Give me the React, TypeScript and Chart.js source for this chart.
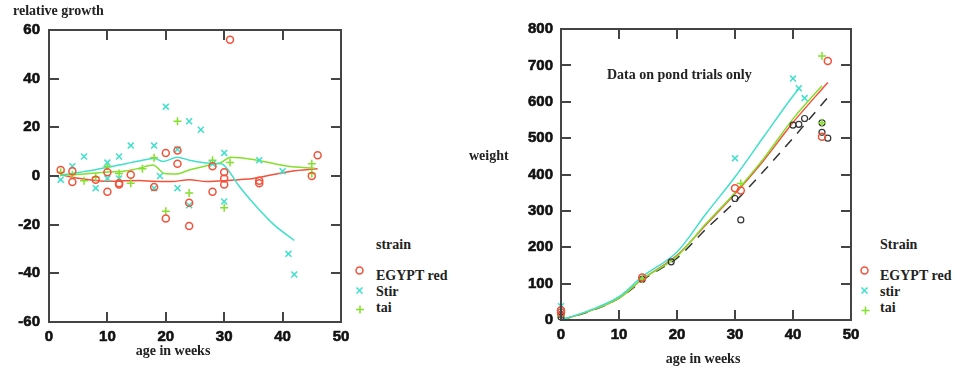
import React, { useEffect, useRef } from "react";
import { Chart, registerables } from "chart.js";

Chart.register(...registerables);

// ---------- Left panel: relative growth vs age in weeks ----------
const growthXTicks = [0, 10, 20, 30, 40, 50];
const growthYTicks = [-60, -40, -20, 0, 20, 40, 60];

const growthEgypt: [number, number][] = [
  [2, 2.5], [4, 2], [4, -2.5], [8, -1.5], [10, 1.5], [10, -6.5], [12, -3], [12, -3.5],
  [14, 0.5], [18, -4.5], [20, 9.5], [20, -17.5], [22, 10.5], [22, 5], [24, -11],
  [24, -20.5], [28, 4], [28, -6.5], [30, 1.5], [30, -1], [30, -3.5], [31, 56],
  [36, -2], [36, -3], [45, 0], [46, 8.5],
];
const growthStir: [number, number][] = [
  [2, -1.5], [4, 4], [6, 8], [8, -5], [10, 5.5], [10, -1], [12, 8], [12, -1],
  [14, 12.5], [18, 12.5], [18, -5], [19, 0], [20, 28.5], [22, 11], [22, -5],
  [24, 22.5], [24, -12], [26, 19], [28, 5], [30, 9.5], [30, -10.5], [36, 6.5],
  [40, 2], [41, -32], [42, -40.5],
];
const growthTai: [number, number][] = [
  [2, 1.5], [4, 0.5], [6, -2], [8, -0.5], [10, 4], [12, 1], [14, -3], [16, 3],
  [18, 7.5], [20, -14.5], [22, 22.5], [24, -7], [28, 6.5], [30, -13], [31, 5.5],
  [45, 5], [45, 1],
];
const growthEgyptSmooth: [number, number][] = [
  [2, 0.5], [4, -0.5], [6, -1.2], [8, -1.8], [10, -2.2], [13, -2], [15.5, -1.8],
  [18, -2.2], [21, -2.3], [24, -1.5], [27, -2.3], [30, -2], [32.5, -1.5], [35, -1],
  [38, 0.4], [41.5, 2], [46, 3],
];
const growthStirSmooth: [number, number][] = [
  [2, 0.5], [4, 1], [6, 1.8], [8, 2.6], [10, 3.6], [12, 4.5], [14, 5.5], [16, 6.5],
  [18, 7.2], [19.5, 6], [22, 7.7], [24, 6.5], [27, 5.3], [29.5, 5], [30.5, 3],
  [32.5, -4], [35.5, -12.5], [38.5, -20], [42, -26.5],
];
const growthTaiSmooth: [number, number][] = [
  [2, 0.4], [6, 0.8], [9.5, 1.5], [13.5, 2.2], [15.5, 3.2], [17.8, 4.5], [19.8, 1],
  [21.8, 0.8], [24, 2.5], [27.4, 4.5], [29.4, 5.5], [31.1, 7.7], [35.4, 6.6],
  [41, 4], [45.5, 3.2],
];

// ---------- Right panel: weight vs age in weeks ----------
const weightXTicks = [0, 10, 20, 30, 40, 50];
const weightYTicks = [0, 100, 200, 300, 400, 500, 600, 700, 800];

const weightEgypt: [number, number][] = [
  [0, 27], [0, 20], [14, 117], [30, 362], [31, 356], [45, 504], [46, 712],
];
const weightStir: [number, number][] = [
  [0, 38], [30, 445], [40, 664], [41, 637], [42, 610],
];
const weightTai: [number, number][] = [
  [0, 12], [14, 113], [31, 375], [45, 726], [45, 542],
];
const weightOther: [number, number][] = [
  [0, 15], [0, 8], [14, 112], [19, 160], [30, 334], [31, 275], [40, 536],
  [41, 538], [42, 554], [45, 542], [45, 516], [46, 500],
];
const curveEgypt: [number, number][] = [
  [0, 0], [5, 25], [10, 60], [14, 112], [20, 178], [25, 262], [30, 347],
  [35, 440], [40, 543], [46, 653],
];
const curveStir: [number, number][] = [
  [0, 0], [5, 27], [10, 64], [14, 119], [20, 187], [25, 292], [30, 393],
  [35, 505], [40, 616], [41.2, 639],
];
const curveTai: [number, number][] = [
  [0, 0], [5, 25], [10, 60], [14, 112], [20, 175], [25, 265], [30, 350],
  [35, 445], [40, 553], [45, 644],
];
const curveOther: [number, number][] = [
  [0, 0], [5, 24], [10, 60], [15, 120], [20, 170], [25, 250], [30, 325],
  [35, 410], [40, 500], [46, 612],
];

// ---------- styling / layout ----------
const RED = "#f4513b";
const CYAN = "#3fe0cc";
const GREEN = "#84e02c";
const BLACK = "#333333";
const FRAME = "#444444";
const TICK_FONT = { family: "'Liberation Sans', Arial, sans-serif", size: 15, weight: "bold" as const };
const SERIF = "'Liberation Serif', 'DejaVu Serif', serif";
const TICK_LEN = 10;

// plot boxes (page pixels) that the chart paddings below produce
const LEFT_BOX = { left: 49, top: 30, right: 341, bottom: 322 };
const RIGHT_BOX = { left: 561, top: 29, right: 851, bottom: 320 };

const pts = (a: [number, number][]) => a.map(([x, y]) => ({ x, y }));

function drawFrame(chart: any) {
  const ctx = chart.ctx;
  const a = chart.chartArea;
  const xs = chart.scales.x;
  const ys = chart.scales.y;
  ctx.save();
  ctx.strokeStyle = FRAME;
  ctx.lineWidth = 2;
  ctx.setLineDash([]);
  ctx.beginPath();
  ctx.rect(a.left, a.top, a.right - a.left, a.bottom - a.top);
  xs.ticks.forEach((t: any) => {
    if (t.value <= xs.min || t.value >= xs.max) return;
    const p = Math.round(xs.getPixelForValue(t.value));
    ctx.moveTo(p, a.bottom);
    ctx.lineTo(p, a.bottom - TICK_LEN);
    ctx.moveTo(p, a.top);
    ctx.lineTo(p, a.top + TICK_LEN);
  });
  ys.ticks.forEach((t: any) => {
    if (t.value <= ys.min || t.value >= ys.max) return;
    const p = Math.round(ys.getPixelForValue(t.value));
    ctx.moveTo(a.left, p);
    ctx.lineTo(a.left + TICK_LEN, p);
    ctx.moveTo(a.right, p);
    ctx.lineTo(a.right - TICK_LEN, p);
  });
  ctx.stroke();
  ctx.restore();
}

const framePlugin = { id: "plotFrame", afterDraw: (chart: any) => drawFrame(chart) };

const markerSet = (data: [number, number][], color: string, style: string, radius: number, label: string) => ({
  label,
  data: pts(data),
  showLine: false,
  pointStyle: style,
  pointRadius: radius,
  borderColor: color,
  backgroundColor: "rgba(0,0,0,0)",
  pointBorderColor: color,
  pointBackgroundColor: "rgba(0,0,0,0)",
  borderWidth: 1.5,
  pointBorderWidth: 1.5,
  clip: false as any,
});

const lineSet = (data: [number, number][], color: string, label: string, dash: number[] = []) => ({
  label,
  data: pts(data),
  showLine: true,
  pointRadius: 0,
  borderColor: color,
  backgroundColor: color,
  borderWidth: 1.5,
  borderDash: dash,
  tension: 0.3,
  cubicInterpolationMode: "monotone" as const,
  clip: false as any,
});

function axis(ticks: number[], position: string, size: number, labelPad: number) {
  const horizontal = position === "top" || position === "bottom";
  return {
    type: "linear" as const,
    position,
    min: ticks[0],
    max: ticks[ticks.length - 1],
    afterBuildTicks: (s: any) => { s.ticks = ticks.map((v) => ({ value: v })); },
    ticks: {
      font: TICK_FONT,
      color: "#111",
      textStrokeColor: "#111",
      textStrokeWidth: 0.6,
      padding: labelPad,
      maxRotation: 0,
      autoSkip: false,
    },
    grid: { display: false, drawTicks: false },
    border: { display: false },
    afterFit: (s: any) => {
      if (horizontal) s.height = size;
      else s.width = size;
    },
  };
}

function useChart(ref: React.RefObject<HTMLCanvasElement>, build: () => any) {
  useEffect(() => {
    if (!ref.current) return;
    const chart = new Chart(ref.current, build());
    return () => chart.destroy();
  }, []);
}

// plot frame with inward tick marks, as thin HTML boxes
function FrameBoxes({ box, xTicks, yTicks }: { box: typeof LEFT_BOX; xTicks: number[]; yTicks: number[] }) {
  const x0 = xTicks[0], x1 = xTicks[xTicks.length - 1];
  const y0 = yTicks[0], y1 = yTicks[yTicks.length - 1];
  const px = (v: number) => Math.round(box.left + ((v - x0) / (x1 - x0)) * (box.right - box.left));
  const py = (v: number) => Math.round(box.bottom - ((v - y0) / (y1 - y0)) * (box.bottom - box.top));
  const seg = (l: number, t: number, w: number, h: number, k: string) => (
    <div key={k} style={{ position: "absolute", left: l, top: t, width: w, height: h, background: FRAME }} />
  );
  const parts: React.ReactNode[] = [
    seg(box.left - 1, box.top - 1, box.right - box.left + 2, 2, "t"),
    seg(box.left - 1, box.bottom - 1, box.right - box.left + 2, 2, "b"),
    seg(box.left - 1, box.top - 1, 2, box.bottom - box.top + 2, "l"),
    seg(box.right - 1, box.top - 1, 2, box.bottom - box.top + 2, "r"),
  ];
  xTicks.slice(1, -1).forEach((v) => {
    const p = px(v);
    parts.push(seg(p - 1, box.bottom - TICK_LEN, 2, TICK_LEN, `xb${v}`));
    parts.push(seg(p - 1, box.top, 2, TICK_LEN, `xt${v}`));
  });
  yTicks.slice(1, -1).forEach((v) => {
    const p = py(v);
    parts.push(seg(box.left, p - 1, TICK_LEN, 2, `yl${v}`));
    parts.push(seg(box.right - TICK_LEN, p - 1, TICK_LEN, 2, `yr${v}`));
  });
  return <>{parts}</>;
}

const textStyle = (left: number, top: number, center = false): React.CSSProperties => ({
  position: "absolute",
  left,
  top,
  fontFamily: SERIF,
  fontWeight: "bold",
  fontSize: 14,
  lineHeight: "16px",
  color: "#222",
  whiteSpace: "nowrap",
  transform: center ? "translateX(-50%)" : undefined,
});

function Legend({ x, y, title, names }: { x: number; y: number; title: string; names: string[] }) {
  return (
    <>
      <div style={textStyle(x + 17, y)}>{title}</div>
      <div style={textStyle(x + 17, y + 31)}>{names[0]}</div>
      <div style={textStyle(x + 17, y + 47)}>{names[1]}</div>
      <div style={textStyle(x + 17, y + 63)}>{names[2]}</div>
    </>
  );
}

export default function App() {
  const leftRef = useRef<HTMLCanvasElement>(null);
  const rightRef = useRef<HTMLCanvasElement>(null);

  useChart(leftRef, () => ({
    type: "scatter",
    data: {
      datasets: [
        markerSet(growthEgypt, RED, "circle", 3.5, "EGYPT red"),
        markerSet(growthStir, CYAN, "crossRot", 4.2, "Stir"),
        markerSet(growthTai, GREEN, "cross", 4, "tai"),
        lineSet(growthStirSmooth, CYAN, "Stir smooth"),
        lineSet(growthTaiSmooth, GREEN, "tai smooth"),
        lineSet(growthEgyptSmooth, RED, "EGYPT red smooth"),
      ],
    },
    options: {
      responsive: false,
      animation: false,
      events: [],
      layout: { padding: { top: 30, left: 0, right: 29, bottom: 22 } },
      plugins: { legend: { display: false }, tooltip: { enabled: false } },
      scales: { x: axis(growthXTicks, "bottom", 30, 6), y: axis(growthYTicks, "left", 49, 9) },
    },
    plugins: [framePlugin],
  }));

  useChart(rightRef, () => ({
    type: "scatter",
    data: {
      datasets: [
        markerSet(weightEgypt, RED, "circle", 3.5, "EGYPT red"),
        markerSet(weightStir, CYAN, "crossRot", 4.2, "stir"),
        markerSet(weightTai, GREEN, "cross", 4, "tai"),
        { ...markerSet(weightOther, BLACK, "circle", 3, "other"), borderWidth: 1.2, pointBorderWidth: 1.2 },
        lineSet(curveStir, CYAN, "stir fit"),
        lineSet(curveTai, GREEN, "tai fit"),
        lineSet(curveEgypt, RED, "EGYPT red fit"),
        lineSet(curveOther, BLACK, "other fit", [10, 8]),
      ],
    },
    options: {
      responsive: false,
      animation: false,
      events: [],
      layout: { padding: { top: 29, left: 0, right: 29, bottom: 24 } },
      plugins: { legend: { display: false }, tooltip: { enabled: false } },
      scales: { x: axis(weightXTicks, "bottom", 30, 6), y: axis(weightYTicks, "left", 81, 8) },
    },
    plugins: [framePlugin],
  }));

  return (
    <div style={{ position: "absolute", left: 0, top: 0, width: 960, height: 374, overflow: "hidden", background: "#fff" }}>
      <FrameBoxes box={LEFT_BOX} xTicks={growthXTicks} yTicks={growthYTicks} />
      <FrameBoxes box={RIGHT_BOX} xTicks={weightXTicks} yTicks={weightYTicks} />
      <canvas ref={leftRef} width={370} height={374} style={{ position: "absolute", left: 0, top: 0 }} />
      <canvas ref={rightRef} width={400} height={374} style={{ position: "absolute", left: 480, top: 0 }} />

      <div style={textStyle(13, 3)}>relative growth</div>
      <div style={textStyle(173, 343, true)}>age in weeks</div>
      <div style={textStyle(469, 148)}>weight</div>
      <div style={textStyle(607, 67)}>Data on pond trials only</div>
      <div style={textStyle(703, 351, true)}>age in weeks</div>

      <Legend x={359} y={237} title="strain" names={["EGYPT red", "Stir", "tai"]} />
      <Legend x={863} y={237} title="Strain" names={["EGYPT red", "stir", "tai"]} />

      <svg width={960} height={374} style={{ position: "absolute", left: 0, top: 0, pointerEvents: "none" }}>
        <g fill="none" strokeWidth={1.5}>
          <circle cx={359.5} cy={270.5} r={3.5} stroke={RED} />
          <path d="M356.5 287.5 L362.5 293.5 M362.5 287.5 L356.5 293.5" stroke={CYAN} />
          <path d="M356 309.5 L364 309.5 M360 305.5 L360 313.5" stroke={GREEN} />
          <circle cx={864.5} cy={270.5} r={3.5} stroke={RED} />
          <path d="M861.5 287.5 L867.5 293.5 M867.5 287.5 L861.5 293.5" stroke={CYAN} />
          <path d="M861.5 310.5 L869.5 310.5 M865.5 306.5 L865.5 314.5" stroke={GREEN} />
        </g>
      </svg>
    </div>
  );
}
